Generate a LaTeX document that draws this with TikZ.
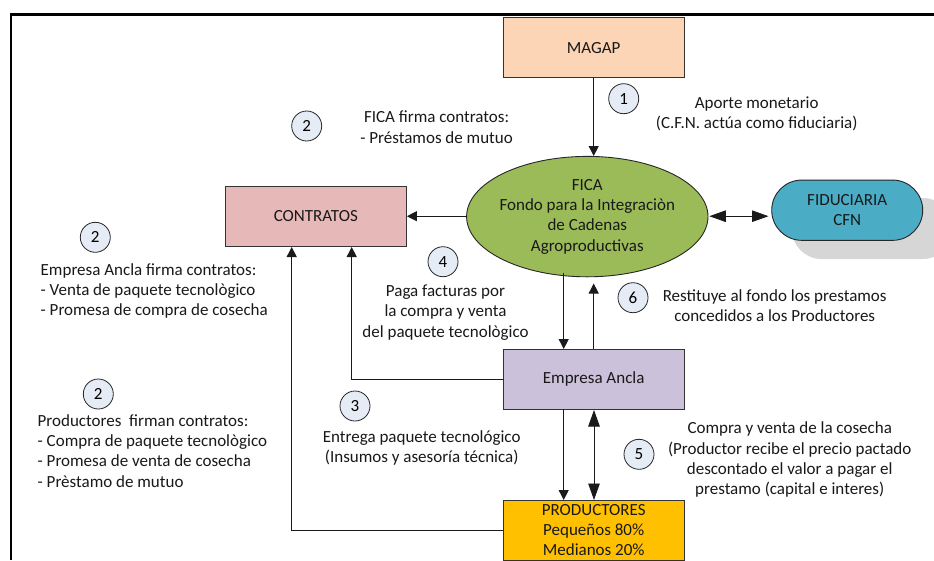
\documentclass[tikz,border=0pt]{standalone}
\usepackage{fontspec}
\setmainfont{Carlito}
\usetikzlibrary{arrows.meta,shapes.geometric,shapes.misc}
\definecolor{framec}{HTML}{000000}
\definecolor{linec}{HTML}{1A1A1A}
\definecolor{numfill}{HTML}{E6ECF6}
\definecolor{magapc}{HTML}{FBD5B5}
\definecolor{contc}{HTML}{E6B8B7}
\definecolor{empc}{HTML}{CCC1DA}
\definecolor{prodc}{HTML}{FFC000}
\definecolor{ficac}{HTML}{9BBB59}
\definecolor{fidc}{HTML}{4BACC6}
\tikzset{
  lbl/.style={inner sep=0pt,outer sep=0pt,font=\fontsize{17}{20.3}\selectfont,text=black!90},
  ctr/.style={lbl,align=center},
  lft/.style={lbl,align=left,anchor=west},
  box/.style={draw=black!80,line width=0.9pt,minimum width=181.3pt,minimum height=60.3pt,inner sep=0pt,outer sep=0pt,ctr},
  numc/.style={circle,draw=black!85,line width=0.8pt,fill=numfill,minimum size=30pt,inner sep=0pt,outer sep=0pt,font=\fontsize{17}{18}\selectfont},
  conn/.style={draw=linec,line width=0.9pt,-{Triangle[length=10pt,width=10pt]}},
  bigconn/.style={draw=linec,line width=0.9pt,{Triangle[length=16.5pt,width=11.5pt]}-{Triangle[length=16.5pt,width=11.5pt]}},
}
\begin{document}
\begin{tikzpicture}[x=1pt,y=-1pt]
\useasboundingbox (0,0) rectangle (934,560);
\begin{scope}
\clip (0,0) rectangle (934,560);
\fill[white] (0,0) rectangle (934,560);
\fill[black!16,rounded corners=30pt] (791.7,198) rectangle (952.7,259) ;
\draw[framec,line width=2.6pt] (10.8,560) -- (10.8,14.2) -- (934,14.2);
\end{scope}
% boxes
\node[box,fill=magapc] (magap) at (593.7,47.6) {MAGAP};
\node[box,fill=contc] (contr) at (315.8,216.3) {CONTRATOS};
\node[box,fill=empc] (emp) at (593.7,379.2) {Empresa Ancla};
\node[box,fill=prodc,minimum height=60.3pt] (prod) at (593.7,530.2) {PRODUCTORES\\Pequeños 80\%\\Medianos 20\%};
\node[ellipse,draw=black!85,line width=0.9pt,fill=ficac,ctr,minimum width=241.4pt,minimum height=120.4pt,inner sep=-6pt,outer sep=0pt] (fica) at (587.3,216.6) {FICA\\Fondo para la Integraciòn\\de Cadenas\\Agroproductivas};
\node[draw=black!85,line width=0.9pt,fill=fidc,rounded rectangle,minimum width=151pt,minimum height=60.3pt,inner sep=0pt,outer sep=0pt,ctr] (fid) at (847.2,210.2) {FIDUCIARIA\\CFN};
% connector ends
\coordinate (c1) at (351.7,247);
\coordinate (c2) at (291.7,247);
\coordinate (a1) at (563.7,273);
\coordinate (a2) at (563.7,349);
\coordinate (a3) at (593.7,349);
\coordinate (a4) at (593.7,283.5);
\coordinate (a5) at (563.7,409.4);
\coordinate (a6) at (563.7,500);
\coordinate (a7) at (594,410);
\coordinate (a8) at (594,500);
\coordinate (f1) at (709.3,216.2);
\coordinate (f2) at (768.5,216.2);
\coordinate (m1) at (593.7,156);
\coordinate (f3) at (466.7,216.2);
\coordinate (c3) at (406.9,216.2);
% connectors
\draw[conn] (magap.south) -- (m1);
\draw[conn] (f3) -- (c3);
\draw[bigconn] (f1) -- (f2);
\draw[conn] (a1) -- (a2);
\draw[conn] (a3) -- (a4);
\draw[conn] (emp.west) -| (c1);
\draw[conn] (prod.west) -| (c2);
\draw[conn] (a5) -- (a6);
\draw[bigconn] (a7) -- (a8);
% numbers
\node[numc] (n1) at (623.7,98.7) {1};
\node[numc] (n2a) at (306.7,126) {2};
\node[numc] (n2b) at (95.3,237.3) {2};
\node[numc] (n2c) at (98.3,394) {2};
\node[numc] (n3) at (355,406) {3};
\node[numc] (n4) at (443,261.7) {4};
\node[numc] (n5) at (639,454.3) {5};
\node[numc] (n6) at (633,297.7) {6};
% labels
\node[ctr] (t1) at (756.7,113.5) {Aporte monetario\\(C.F.N. actúa como fiduciaria)};
\node[ctr] (t2) at (436.6,127.2) {FICA firma contratos:\\- Préstamos de mutuo};
\node[lft] (t3) at (40.7,291) {Empresa Ancla firma contratos:\\- Venta de paquete tecnològico\\- Promesa de compra de cosecha};
\node[lft] (t4) at (37.7,451) {Productores\ \ firman contratos:\\- Compra de paquete tecnològico\\- Promesa de venta de cosecha\\- Prèstamo de mutuo};
\node[ctr] (t5) at (445.5,312.4) {Paga facturas por\\la compra y venta\\del paquete tecnològico};
\node[ctr] (t6) at (421.7,447.7) {Entrega paquete tecnológico\\(Insumos y asesoría técnica)};
\node[ctr] (t7) at (774.7,305.7) {Restituye al fondo los prestamos\\concedidos a los Productores};
\node[ctr] (t8) at (789.7,459.7) {Compra y venta de la cosecha\\(Productor recibe el precio pactado\\descontado el valor a pagar el\\prestamo (capital e interes)};
\end{tikzpicture}
\end{document}
